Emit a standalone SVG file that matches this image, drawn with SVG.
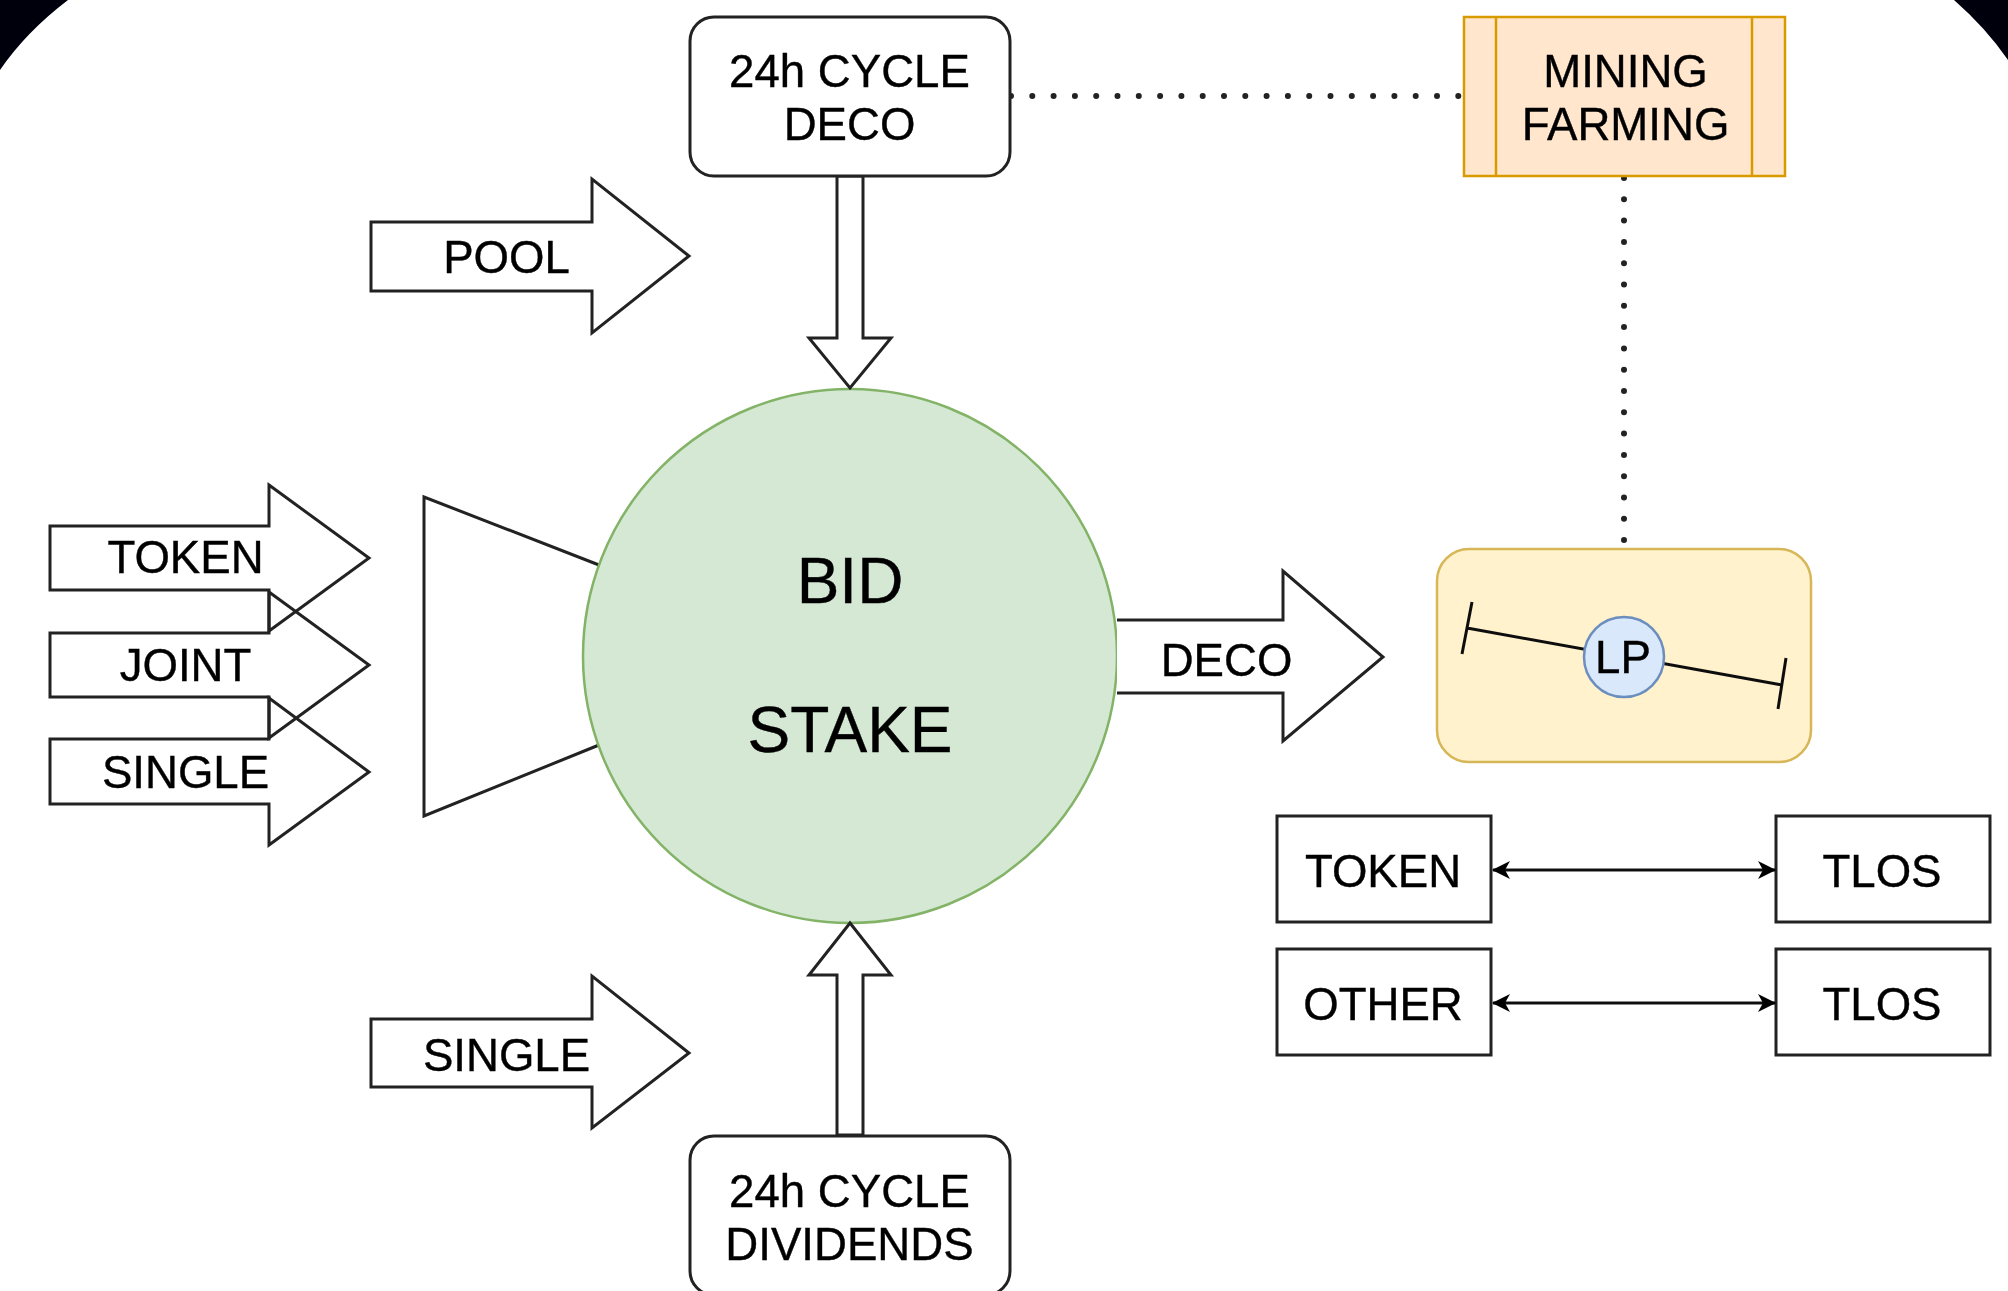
<svg xmlns="http://www.w3.org/2000/svg" width="2008" height="1291" viewBox="0 0 2008 1291">
<style>
text{font-family:"Liberation Sans",Arial,sans-serif;font-size:45.6px;fill:#000;text-anchor:middle;stroke:#000;stroke-width:0.4}
.b{fill:#fff;stroke:#222;stroke-width:3}
.n{fill:none;stroke:#222;stroke-width:3}
.big{font-size:64px}
.dot{fill:none;stroke:#222;stroke-width:6;stroke-linecap:round;stroke-dasharray:0 21.3}
.con{fill:none;stroke:#111;stroke-width:3}
</style>
<defs>
<filter id="soft" x="0" y="0" width="100%" height="100%"><feGaussianBlur stdDeviation="0.7"/></filter>
<marker id="ah" viewBox="0 0 18 20" markerWidth="18" markerHeight="20" refX="17" refY="10" orient="auto-start-reverse" markerUnits="userSpaceOnUse"><path d="M0 1L18 10L0 19L5 10Z" fill="#000"/></marker>
</defs>
<rect width="2008" height="1291" fill="#fff"/>
<g filter="url(#soft)">
<path id="corner-left" d="M0 0H68Q26 32 0 70Z" fill="#03030f"/>
<path id="corner-right" d="M2008 0H1954Q1986 28 2008 60Z" fill="#03030f"/>
<g id="connectors">
<path class="dot" d="M1011 96H1464"/>
<path class="dot" d="M1624 178V549"/>
</g>
<g id="pool-arrow"><path class="b" d="M371 222H592V179L689 256L592 333V291H371Z"/><text x="506.500" y="273">POOL</text></g>
<g id="token-arrow"><path class="n" d="M50 526H269V485L369 558L269 631V590H50Z"/><text x="185.500" y="573">TOKEN</text></g>
<g id="joint-arrow"><path class="n" d="M50 633H269V592L369 665L269 738V697H50Z"/><text x="185.500" y="681">JOINT</text></g>
<g id="single-arrow-left"><path class="n" d="M50 739H269V698L369 772L269 845V804H50Z"/><text x="185.500" y="788">SINGLE</text></g>
<g id="funnel"><path class="b" d="M599 565L424 497V816L599 745"/></g>
<g id="stake-circle"><circle cx="850" cy="656" r="267" fill="#d5e8d4" stroke="#82b366" stroke-width="2.500"/><text class="big" x="850" y="603">BID</text><text class="big" x="850" y="752">STAKE</text></g>
<g id="down-arrow"><path class="b" d="M837 176H863V338H891L850 388L809 338H837Z"/></g>
<g id="up-arrow"><path class="b" d="M837 1135H863V975H891L850 923L809 975H837Z"/></g>
<g id="cycle-deco"><rect class="b" x="690" y="17" width="320" height="159" rx="24"/><text x="849.500" y="87">24h CYCLE</text><text x="849.500" y="140">DECO</text></g>
<g id="cycle-dividends"><rect class="b" x="690" y="1136" width="320" height="159" rx="24"/><text x="849.500" y="1207">24h CYCLE</text><text x="849.500" y="1260">DIVIDENDS</text></g>
<g id="single-arrow-bottom"><path class="b" d="M371 1019H592V976L689 1053L592 1128V1087H371Z"/><text x="506.500" y="1071">SINGLE</text></g>
<g id="deco-arrow"><path class="b" d="M1117 620H1283V571L1383 657L1283 741V693H1117"/><text x="1226.500" y="676">DECO</text></g>
<g id="mining-farming"><rect x="1464" y="17" width="321" height="159" fill="#ffe6cc" stroke="#d79b00" stroke-width="2.500"/><path d="M1496 17V176M1752 17V176" fill="none" stroke="#d79b00" stroke-width="2.500"/><text x="1625.500" y="87">MINING</text><text x="1625.500" y="140">FARMING</text></g>
<g id="lp-box"><rect x="1437" y="549" width="374" height="213" rx="32" fill="#fff2cc" stroke="#d6b656" stroke-width="2.500"/><path class="con" d="M1467 628L1782 685M1472 602L1462 654M1786 658L1778 709"/><ellipse cx="1624" cy="657" rx="40" ry="40" fill="#dae8fc" stroke="#6c8ebf" stroke-width="2.500"/><text x="1623" y="673">LP</text></g>
<g id="token-box"><rect class="b" x="1277" y="816" width="214" height="106"/><text x="1383" y="887">TOKEN</text></g>
<g id="tlos-1"><rect class="b" x="1776" y="816" width="214" height="106"/><text x="1882" y="887">TLOS</text></g>
<g id="other-box"><rect class="b" x="1277" y="949" width="214" height="106"/><text x="1383" y="1020">OTHER</text></g>
<g id="tlos-2"><rect class="b" x="1776" y="949" width="214" height="106"/><text x="1882" y="1020">TLOS</text></g>
<g id="pair-connectors">
<path class="con" d="M1493 870H1775" marker-start="url(#ah)" marker-end="url(#ah)"/>
<path class="con" d="M1493 1003H1775" marker-start="url(#ah)" marker-end="url(#ah)"/>
</g>
</g>
</svg>
